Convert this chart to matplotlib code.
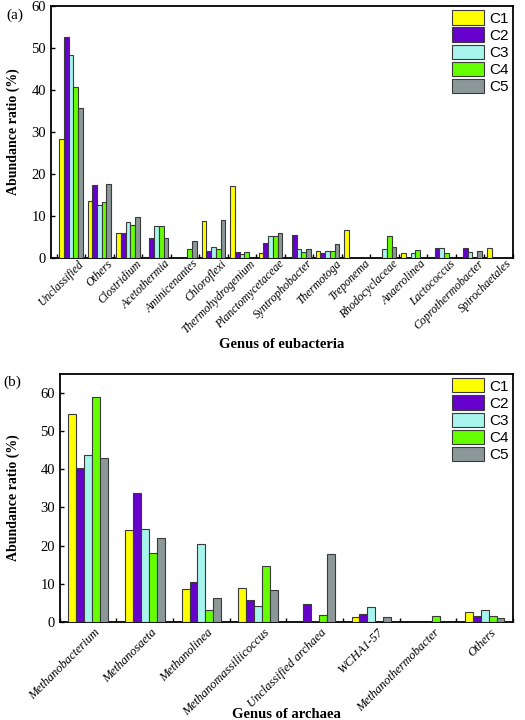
import numpy as np
import matplotlib.pyplot as plt

SERIES = ["C1", "C2", "C3", "C4", "C5"]
COLORS = ["#FFFF00", "#6600CC", "#A8F5EE", "#66FF00", "#8C9898"]

BACT = ["Unclassified", "Others", "Clostridium", "Acetothermia", "Aminicenantes",
        "Chloroflexi", "Thermohydrogenium", "Planctomycetaceae", "Syntrophobacter",
        "Thermotoga", "Treponema", "Rhodocyclaceae", "Anaerolinea", "Lactococcus",
        "Coprothermobacter", "Spirochaetales"]
bact_c1 = [28.2, 13.5, 5.8, 0, 0, 8.7, 17.1, 1.1, 0, 1.5, 6.7, 0, 1.2, 0, 0, 2.4]
bact_c2 = [52.5, 17.3, 6.0, 4.6, 0, 1.5, 1.3, 3.5, 5.4, 1.1, 0, 0, 0, 2.4, 2.3, 0]
bact_c3 = [48.3, 12.5, 8.4, 7.5, 0, 2.6, 1.0, 5.1, 2.1, 1.7, 0, 2.0, 1.2, 2.4, 1.3, 0]
bact_c4 = [40.6, 13.3, 7.9, 7.5, 2.2, 2.1, 1.3, 5.1, 1.3, 1.7, 0, 5.2, 1.8, 1.2, 0, 0]
bact_c5 = [35.6, 17.5, 9.7, 4.8, 4.0, 9.1, 0, 5.9, 2.1, 3.3, 0, 2.6, 0, 0, 1.5, 0]

ARCH = ["Methanobacterium", "Methanosaeta", "Methanolinea", "Methanomassiliicoccus",
        "Unclassified archaea", "WCHA1-57", "Methanothermobacter", "Others"]
arch_c1 = [54.4, 24.0, 8.7, 8.8, 0, 1.3, 0, 2.6]
arch_c2 = [40.2, 33.7, 10.5, 5.8, 4.7, 2.2, 0, 1.5]
arch_c3 = [43.8, 24.4, 20.4, 4.1, 0, 3.9, 0, 3.2]
arch_c4 = [58.9, 18.1, 3.2, 14.8, 1.9, 0, 1.6, 1.5]
arch_c5 = [42.9, 22.0, 6.3, 8.4, 17.7, 1.3, 0, 1.1]

SERIF = "Liberation Serif"


def draw(ax, cats, data, width, xlim, ylim, xlabel, lab_size, lab_off, lab_pad):
    x = np.arange(len(cats))
    for k, (vals, col) in enumerate(zip(data, COLORS)):
        ax.bar(x + (k - 2) * width, vals, width, color=col, edgecolor="#3a3a3a",
               linewidth=0.8, label=SERIES[k], zorder=3)
    ax.set_xlim(*xlim)
    ax.set_ylim(*ylim)
    ax.set_yticks(range(0, 61, 10))
    # labels sit a little right of the group centre, ticks mark group edges
    ax.set_xticks(x + lab_off)
    ax.set_xticklabels(cats, rotation=45, ha="right", va="top",
                       rotation_mode="anchor", fontstyle="italic",
                       family=SERIF, fontsize=lab_size)
    ax.set_xticks(np.arange(len(cats) + 1) - 0.5, minor=True)
    ax.tick_params(axis="x", which="major", length=0, pad=lab_pad)
    ax.tick_params(axis="x", which="minor", direction="in", length=3, width=1)
    ax.tick_params(axis="y", direction="in", length=3, width=1, labelsize=10.5)
    for t in ax.get_yticklabels():
        t.set_family(SERIF)
    for s in ax.spines.values():
        s.set_linewidth(1.3)
    ax.set_ylabel("Abundance ratio (%)", family=SERIF, fontweight="bold", fontsize=10)
    ax.set_xlabel(xlabel, family=SERIF, fontweight="bold", fontsize=10.5)
    ax.legend(loc="upper right", frameon=False,
              prop={"family": "Liberation Sans", "size": 11},
              handlelength=2.1, handleheight=1.05, labelspacing=0.12,
              handletextpad=0.3, borderaxespad=0.0, borderpad=0.3)


fig = plt.figure(figsize=(5.25, 7.2), dpi=100)

ax1 = fig.add_axes([0.097, 0.642, 0.880, 0.350])
draw(ax1, BACT, [bact_c1, bact_c2, bact_c3, bact_c4, bact_c5], 0.165,
     (-0.70, 15.0), (0, 60), "Genus of eubacteria", 8.5, 0.26, 0)
ax1.yaxis.set_label_coords(-0.068, 0.5)
ax1.xaxis.set_label_coords(0.5, -0.32)

ax2 = fig.add_axes([0.114, 0.136, 0.863, 0.345])
draw(ax2, ARCH, [arch_c1, arch_c2, arch_c3, arch_c4, arch_c5], 0.14,
     (-0.5, 7.5), (0, 65), "Genus of archaea", 9, 0.1, 3)
ax2.yaxis.set_label_coords(-0.088, 0.5)
ax2.xaxis.set_label_coords(0.5, -0.345)

fig.text(0.013, 0.988, "(a)", family=SERIF, fontsize=11, va="top")
fig.text(0.006, 0.478, "(b)", family=SERIF, fontsize=11, va="top")

fig.savefig("out.png", dpi=100)
